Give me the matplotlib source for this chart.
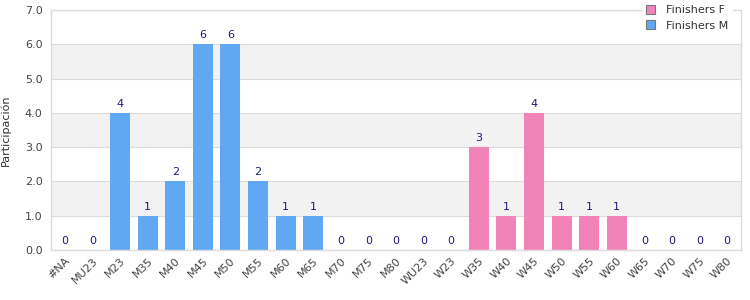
import matplotlib
matplotlib.use("Agg")
import matplotlib.pyplot as plt
import numpy as np
from matplotlib.patches import Patch

categories = ["#NA", "MU23", "M23", "M35", "M40", "M45", "M50", "M55", "M60", "M65",
              "M70", "M75", "M80", "WU23", "W23", "W35", "W40", "W45", "W50", "W55",
              "W60", "W65", "W70", "W75", "W80"]
finishers_f = [0, 0, 0, 0, 0, 0, 0, 0, 0, 0, 0, 0, 0, 0, 0, 3, 1, 4, 1, 1, 1, 0, 0, 0, 0]
finishers_m = [0, 0, 4, 1, 2, 6, 6, 2, 1, 1, 0, 0, 0, 0, 0, 0, 0, 0, 0, 0, 0, 0, 0, 0, 0]
y_ticks = [0, 1, 2, 3, 4, 5, 6, 7]

blue = "#61a8f2"
pink = "#f283b9"
grid_c = "#dcdcdc"

fig = plt.figure(figsize=(7.5, 3), dpi=100)
ax = fig.add_axes([0.068, 0.1667, 0.92, 0.80])

x = np.arange(len(categories))
ax.set_xlim(-0.5, len(categories) - 0.5)
ax.set_ylim(0, 7)

# alternating bands
for i in range(len(y_ticks) - 1):
    if i % 2 == 1:
        ax.axhspan(y_ticks[i], y_ticks[i + 1], color="#f2f2f2", zorder=0, lw=0)
for t in y_ticks:
    ax.axhline(t, color=grid_c, lw=0.8, zorder=1)

ax.bar(x, finishers_m, width=0.72, color=blue, zorder=2)
ax.bar(x, finishers_f, width=0.72, bottom=finishers_m, color=pink, zorder=2)

totals = [f + m for f, m in zip(finishers_f, finishers_m)]
for xi, t in zip(x, totals):
    ax.annotate(str(t), (xi, t), xytext=(0, 3), textcoords="offset points",
                ha="center", va="bottom", fontsize=8, color="#1a1a80", zorder=3)

ax.set_yticks(y_ticks)
ax.set_yticklabels([f"{v:.1f}" for v in y_ticks])
ax.set_xticks(x)
ax.set_xticklabels(categories, rotation=45, ha="right", rotation_mode="anchor")
ax.tick_params(axis="both", length=0, labelsize=8, colors="#444444")
ax.tick_params(axis="x", pad=4)
ax.tick_params(axis="y", pad=6)
for s in ax.spines.values():
    s.set_color(grid_c)
    s.set_linewidth(1.0)
ax.set_ylabel("Participación", fontsize=8, color="#333333", labelpad=10)

handles = [Patch(facecolor=pink, edgecolor="#777777", lw=0.8, label="Finishers F"),
           Patch(facecolor=blue, edgecolor="#777777", lw=0.8, label="Finishers M")]
leg = fig.legend(handles=handles, loc="upper right", bbox_to_anchor=(0.983, 1.012),
                 fontsize=8, frameon=True, handlelength=0.8, handleheight=0.8,
                 borderpad=0.3, labelspacing=0.45, handletextpad=1.0)
leg.get_frame().set_facecolor("white")
leg.get_frame().set_edgecolor("white")
leg.get_frame().set_alpha(1)
for t in leg.get_texts():
    t.set_color("#333333")

fig.savefig("out.png", dpi=100)
